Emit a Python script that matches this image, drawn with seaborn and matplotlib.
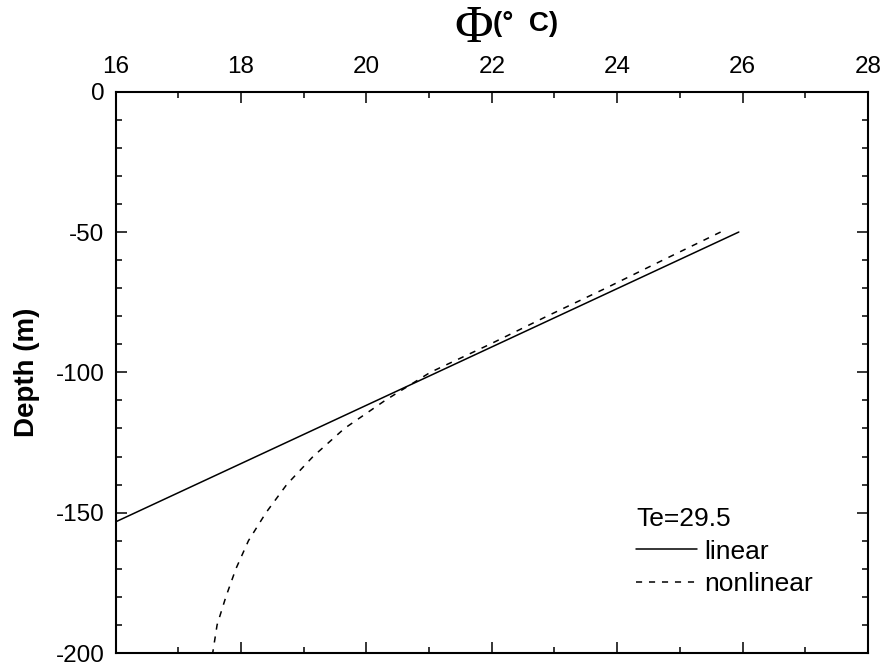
import numpy as np
import pandas as pd
import matplotlib
matplotlib.use("Agg")
import matplotlib.pyplot as plt
import seaborn as sns
from matplotlib.ticker import MultipleLocator

# ---- data ----
linear_depth = [-50, -100, -153.3]
linear_temp = [25.94, 21.13, 16.0]

nonlinear_depth = [-50, -60, -70, -80, -90, -100, -110, -120, -130, -140, -150, -160, -170, -180, -190, -200]
nonlinear_temp = [25.65, 24.73, 23.82, 22.88, 21.97, 21.02, 20.30, 19.65, 19.15, 18.73, 18.40, 18.12, 17.92, 17.76, 17.62, 17.55]

series_names = ["linear", "nonlinear"]
legend_title = "Te=29.5"
x_ticks = [16, 18, 20, 22, 24, 26, 28]
y_ticks = [-200, -150, -100, -50, 0]

df = pd.concat([
    pd.DataFrame({"T": linear_temp, "depth": linear_depth, "series": series_names[0]}),
    pd.DataFrame({"T": nonlinear_temp, "depth": nonlinear_depth, "series": series_names[1]}),
], ignore_index=True)

sns.set_style("ticks")
plt.rcParams["font.family"] = ["Liberation Sans", "DejaVu Sans"]
plt.rcParams["axes.unicode_minus"] = False
plt.rcParams["text.color"] = "black"
plt.rcParams["axes.labelcolor"] = "black"
plt.rcParams["xtick.color"] = "black"
plt.rcParams["ytick.color"] = "black"

fig = plt.figure(figsize=(8.84, 6.66), dpi=100)
ax = fig.add_axes([115.5 / 884, 1 - 653 / 666, (868 - 115.5) / 884, (653 - 91.7) / 666])

sns.lineplot(data=df, x="T", y="depth", hue="series", style="series",
             palette={"linear": "black", "nonlinear": "black"},
             dashes={"linear": "", "nonlinear": (4, 4.5)},
             sort=False, estimator=None, linewidth=1.1, ax=ax)

ax.set_xlim(16, 28)
ax.set_ylim(-200, 0)
ax.set_xticks(x_ticks)
ax.set_yticks(y_ticks)
ax.xaxis.set_minor_locator(MultipleLocator(1))
ax.yaxis.set_minor_locator(MultipleLocator(10))
ax.xaxis.tick_top()
ax.tick_params(which="both", direction="in", top=True, bottom=True, left=True, right=True,
               labeltop=True, labelbottom=False, width=1.1, color="black",
               labelcolor="black")
ax.tick_params(which="major", length=8)
ax.tick_params(which="minor", length=4.5)
ax.tick_params(axis="x", labelsize=17.5, pad=10)
ax.tick_params(axis="y", labelsize=17.5, pad=8)
for s in ax.spines.values():
    s.set_linewidth(1.5)
    s.set_color("black")

ax.set_xlabel("")
ax.set_ylabel("Depth (m)", fontsize=20, fontweight="bold", labelpad=11, color="black")

# title: serif Phi + bold sans (°  C)
fig.text(493 / 884, 1 - 29 / 666, "\u03a6", fontsize=38, family=["Liberation Serif", "DejaVu Serif"],
         ha="right", va="center", color="black")
fig.text(493 / 884, 1 - 24 / 666, "(\u00b0  C)", fontsize=20, fontweight="bold",
         ha="left", va="center", color="black")

handles, labels = ax.get_legend_handles_labels()
leg = ax.legend(handles, labels, title=legend_title, frameon=False, loc="upper left",
                bbox_to_anchor=(636 / 884, 1 - 507 / 666), bbox_transform=fig.transFigure,
                borderpad=0, borderaxespad=0, fontsize=19, title_fontsize=19,
                handlelength=2.3, handletextpad=0.3, labelspacing=0.33)
leg._legend_box.align = "left"
for t in leg.get_texts():
    t.set_color("black")
leg.get_title().set_color("black")

fig.savefig("out.png", dpi=100)
